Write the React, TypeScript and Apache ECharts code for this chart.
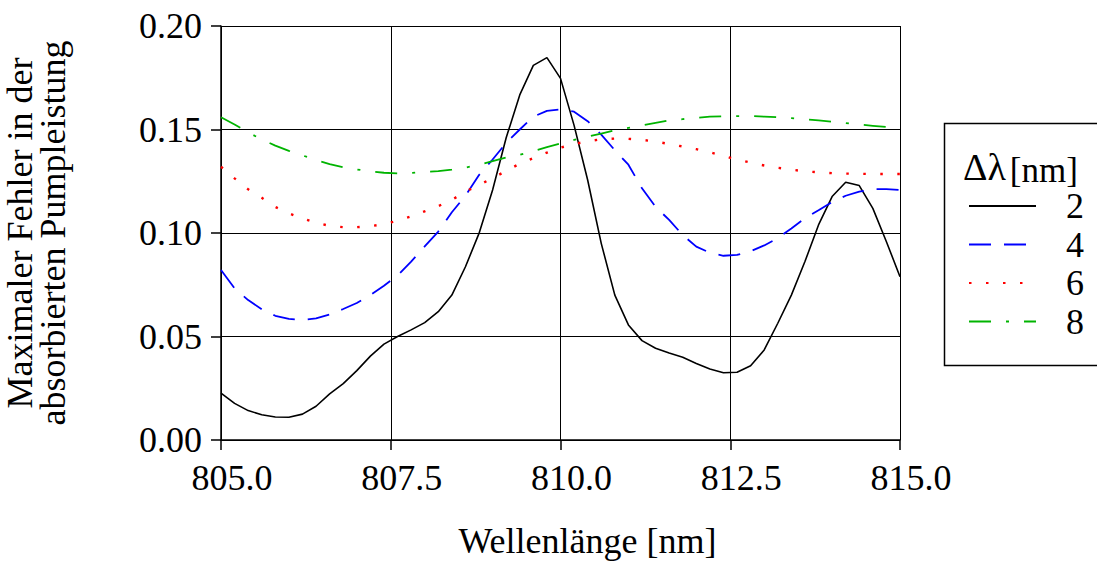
import React, { useEffect, useRef } from "react";
import * as echarts from "echarts";

const wavelengths: number[] = [
  805.0, 805.2, 805.4, 805.6, 805.8, 806.0, 806.2, 806.4, 806.6, 806.8,
  807.0, 807.2, 807.4, 807.6, 807.8, 808.0, 808.2, 808.4, 808.6, 808.8,
  809.0, 809.2, 809.4, 809.6, 809.8, 810.0, 810.2, 810.4, 810.6, 810.8,
  811.0, 811.2, 811.4, 811.6, 811.8, 812.0, 812.2, 812.4, 812.6, 812.8,
  813.0, 813.2, 813.4, 813.6, 813.8, 814.0, 814.2, 814.4, 814.6, 814.8,
  815.0,
];

const err2: number[] = [
  0.0226, 0.0177, 0.0142, 0.0122, 0.0111, 0.011, 0.0125, 0.0163, 0.0223, 0.0272,
  0.0335, 0.0405, 0.0463, 0.05, 0.0532, 0.0567, 0.062, 0.07, 0.0837, 0.0998,
  0.1208, 0.146, 0.1667, 0.181, 0.1847, 0.1747, 0.152, 0.1256, 0.095, 0.07,
  0.0556, 0.048, 0.0443, 0.042, 0.04, 0.037, 0.0343, 0.0325, 0.0327, 0.0359,
  0.0435, 0.0564, 0.07, 0.0862, 0.1039, 0.1176, 0.1245, 0.1229, 0.1119, 0.0958,
  0.0789,
];

const err4: number[] = [
  0.0821, 0.0733, 0.0676, 0.0632, 0.06, 0.0585, 0.058, 0.0588, 0.0606, 0.0633,
  0.0662, 0.07, 0.0745, 0.0795, 0.0862, 0.0935, 0.1007, 0.11, 0.118, 0.128,
  0.1355, 0.1435, 0.15, 0.1562, 0.159, 0.1597, 0.1586, 0.154, 0.1475, 0.14,
  0.133, 0.1216, 0.1127, 0.1063, 0.099, 0.0934, 0.0905, 0.089, 0.0894, 0.0912,
  0.094, 0.0975, 0.1022, 0.1071, 0.111, 0.115, 0.118, 0.12, 0.1212, 0.1212,
  0.1208,
];

const err6: number[] = [
  0.132, 0.1264, 0.1211, 0.117, 0.1126, 0.1095, 0.107, 0.105, 0.1034, 0.1028,
  0.1028, 0.1033, 0.1043, 0.1059, 0.108, 0.1105, 0.113, 0.116, 0.12, 0.1232,
  0.1265, 0.13, 0.1335, 0.1362, 0.1388, 0.1412, 0.143, 0.1443, 0.1453, 0.1456,
  0.1455, 0.145, 0.1442, 0.143, 0.1418, 0.1405, 0.139, 0.1372, 0.1355, 0.134,
  0.1326, 0.1315, 0.1306, 0.1298, 0.1293, 0.1289, 0.1287, 0.1286, 0.1285, 0.1285,
  0.1285,
];

const err8: number[] = [
  0.1559, 0.1524, 0.1486, 0.1452, 0.1422, 0.1397, 0.1375, 0.1352, 0.1333, 0.1318,
  0.1307, 0.1298, 0.1291, 0.1288, 0.129, 0.1295, 0.1299, 0.1306, 0.1316, 0.133,
  0.1347, 0.1365, 0.1378, 0.1396, 0.1415, 0.1432, 0.145, 0.1466, 0.148, 0.1496,
  0.1508, 0.152, 0.1532, 0.1544, 0.155, 0.1556, 0.1562, 0.1564, 0.1565, 0.1565,
  0.1562, 0.1559, 0.1555, 0.1549, 0.1544, 0.1538, 0.1531, 0.1524, 0.1518, 0.1512,
  0.1506,
];

const seriesNames: string[] = ["2", "4", "6", "8"];
const seriesValues: number[][] = [err2, err4, err6, err8];
const seriesColors: string[] = ["#000000", "#0000ff", "#ff0000", "#00b400"];
const seriesDashes: (number[] | null)[] = [null, [22, 13], [2.5, 14.5], [22, 15, 3, 15]];
const seriesWidths: number[] = [1.6, 1.8, 2.4, 1.8];

const FONT = "'Liberation Serif', 'Times New Roman', serif";

export default function App() {
  const ref = useRef<HTMLDivElement>(null);

  useEffect(() => {
    if (!ref.current) return;
    const chart = echarts.init(ref.current, undefined, { renderer: "svg" });

    const series = seriesNames.map((name, i) => ({
      name,
      type: "line" as const,
      symbol: "none",
      showSymbol: false,
      data: wavelengths.map((w, j) => [w, seriesValues[i][j]]),
      lineStyle: {
        color: seriesColors[i],
        width: seriesWidths[i],
        type: seriesDashes[i] ?? "solid",
        cap: "butt",
      },
      itemStyle: { color: seriesColors[i] },
      z: 3,
    }));

    chart.setOption({
      animation: false,
      backgroundColor: "#ffffff",
      grid: {
        left: 221,
        top: 26,
        right: 197,
        bottom: 124,
        containLabel: false,
        outerBoundsMode: "none",
      },
      xAxis: {
        type: "value",
        min: 805,
        max: 815,
        interval: 2.5,
        name: "Wellenlänge [nm]",
        nameLocation: "middle",
        nameGap: 86,
        nameTextStyle: {
          fontFamily: FONT,
          fontSize: 36,
          lineHeight: 30,
          color: "#000",
          padding: [0, 0, 0, 54],
        },
        axisLine: { show: true, lineStyle: { color: "#000", width: 1.5 } },
        axisTick: { show: true, inside: false, length: 10, lineStyle: { color: "#000", width: 1.5 } },
        axisLabel: {
          fontFamily: FONT,
          fontSize: 36,
          color: "#000",
          margin: 20,
          padding: [0, 0, 0, 22],
          formatter: (v: number) => v.toFixed(1),
        },
        splitLine: { show: true, lineStyle: { color: "#000", width: 1 } },
      },
      yAxis: {
        type: "value",
        min: 0,
        max: 0.2,
        interval: 0.05,
        name: "Maximaler Fehler in der\nabsorbierten Pumpleistung",
        nameLocation: "middle",
        nameRotate: 90,
        nameGap: 152,
        nameTextStyle: {
          fontFamily: FONT,
          fontSize: 36,
          color: "#000",
          lineHeight: 33,
        },
        axisLine: { show: true, lineStyle: { color: "#000", width: 1.5 } },
        axisTick: { show: true, inside: false, length: 10, lineStyle: { color: "#000", width: 1.5 } },
        axisLabel: {
          fontFamily: FONT,
          fontSize: 36,
          color: "#000",
          margin: 19,
          formatter: (v: number) => v.toFixed(2),
        },
        splitLine: { show: true, lineStyle: { color: "#000", width: 1 } },
      },
      legend: {
        show: true,
        orient: "vertical",
        left: 968,
        top: 188,
        padding: 0,
        itemWidth: 67,
        itemHeight: 12,
        itemGap: 2.5,
        itemStyle: { color: "transparent", borderWidth: 0, opacity: 0 },
        textStyle: {
          fontFamily: FONT,
          fontSize: 36,
          color: "#000",
          lineHeight: 36,
          padding: [0, 0, 0, 25],
        },
        data: seriesNames,
      },
      graphic: [
        {
          type: "rect",
          left: 942,
          top: 121,
          shape: { width: 200, height: 242 },
          style: { fill: "none", stroke: "#000", lineWidth: 1.5 },
          z: 10,
        },
        {
          type: "text",
          left: 963,
          top: 148,
          style: {
            text: "{a|Δλ}{b|[nm]}",
            rich: {
              a: { fontFamily: FONT, fontSize: 38, fill: "#000" },
              b: { fontFamily: FONT, fontSize: 35, fill: "#000", padding: [6, 0, 0, 4] },
            },
          },
          z: 10,
        },
      ],
      series,
    });

    return () => chart.dispose();
  }, []);

  return (
    <div
      ref={ref}
      style={{ position: "fixed", left: 0, top: 0, width: 1097, height: 564, background: "#fff" }}
    />
  );
}
